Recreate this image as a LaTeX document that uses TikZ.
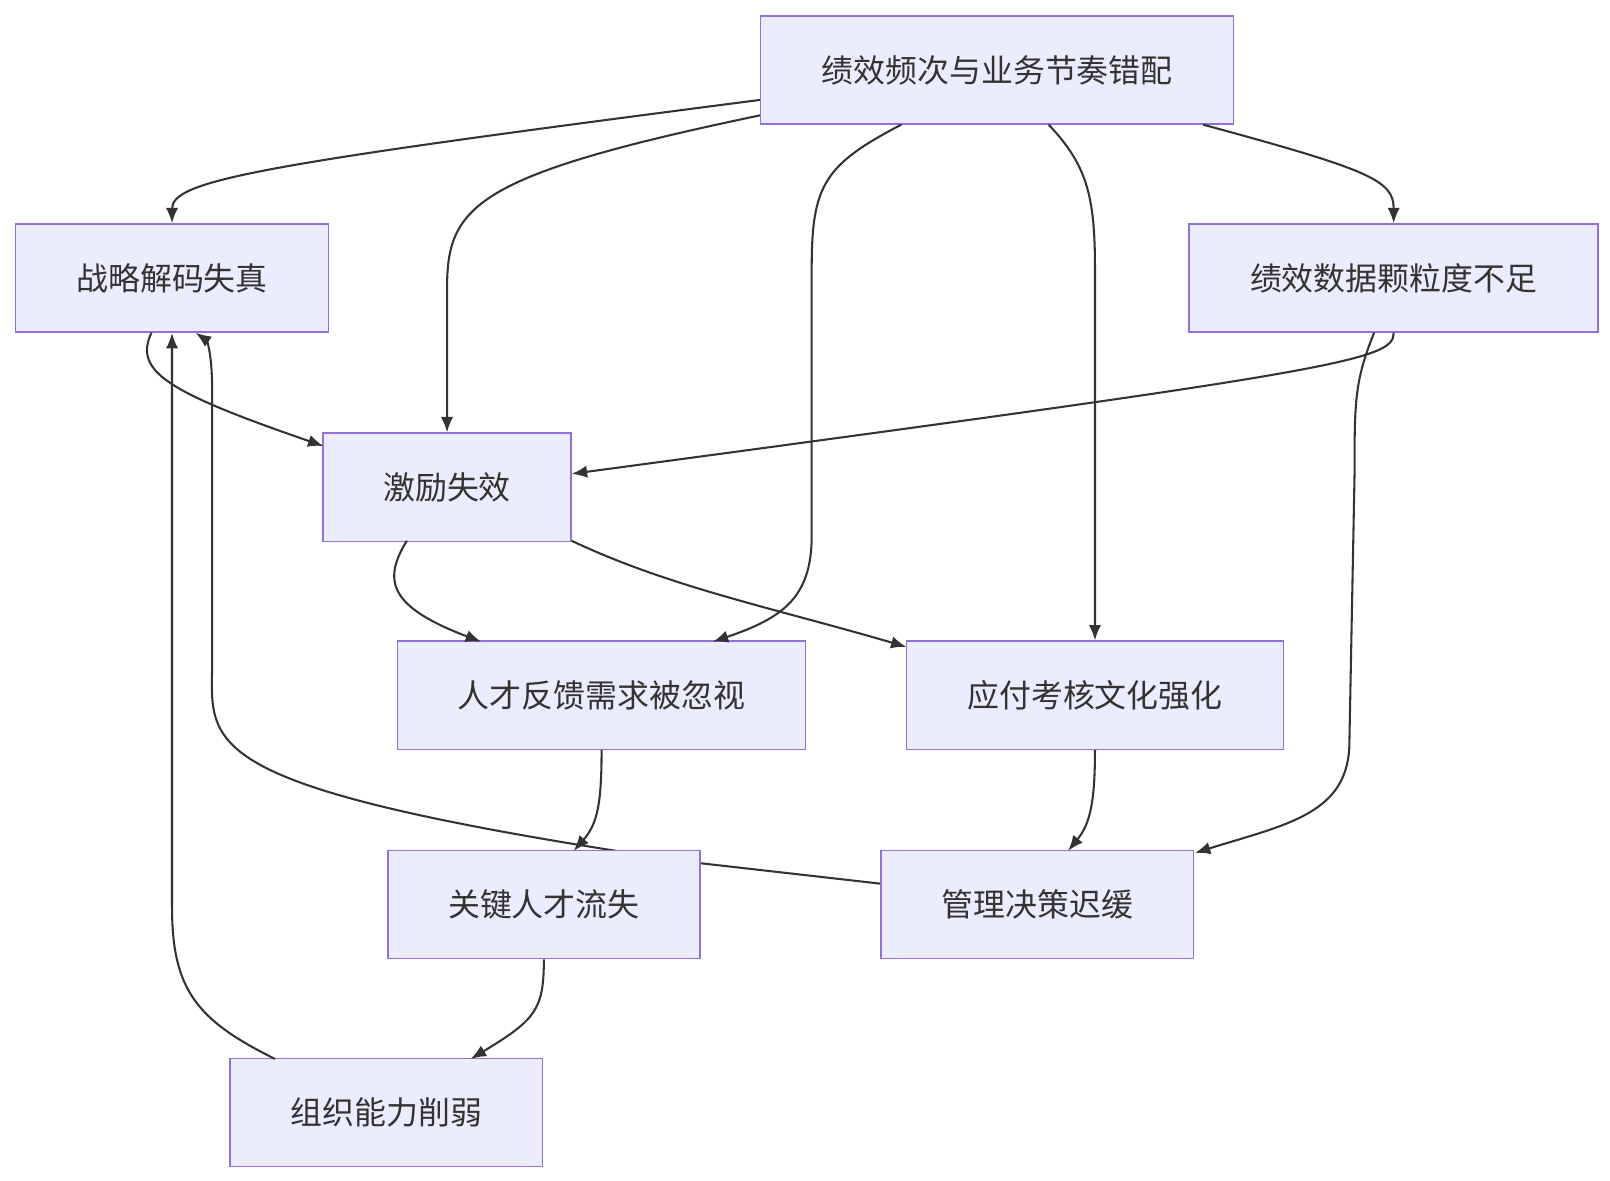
\documentclass[tikz,border=0pt]{standalone}
\usepackage{fontspec}
\newfontfamily\cjk{Noto Sans CJK SC}
\usetikzlibrary{arrows.meta}
\definecolor{boxfill}{HTML}{ECECFF}
\definecolor{boxline}{HTML}{9370DB}
\definecolor{edge}{HTML}{333333}
\tikzset{
  box/.style={draw=boxline,fill=boxfill,line width=1.5pt,minimum height=105pt,
    inner sep=0pt,font=\cjk\fontsize{31}{36}\selectfont,text=black!80},
  flow/.style={draw=edge,line width=2pt,-{Latex[length=15pt,width=12pt]}},
  back/.style={draw=edge,line width=2pt}
}
\begin{document}
\begin{tikzpicture}[x=1pt,y=-1pt]
\useasboundingbox (0,0) rectangle (1563,1146);
% connectors that pass behind boxes
\draw[back] (856,858) -- (680,838);
\draw[flow] (598,826) .. controls (180,760) and (206,720) .. (206,640) -- (206,380)
   .. controls (206,340) and (200,330) .. (190,323);
% boxes
\node[box,minimum width=459pt] (freq) at (968,68) {绩效频次与业务节奏错配};
\node[box,minimum width=304pt] (decode) at (167,270) {战略解码失真};
\node[box,minimum width=397pt] (grain) at (1353,270) {绩效数据颗粒度不足};
\node[box,minimum width=241pt] (incent) at (434,473) {激励失效};
\node[box,minimum width=396pt] (voice) at (584,675) {人才反馈需求被忽视};
\node[box,minimum width=366pt] (cope) at (1063,675) {应付考核文化强化};
\node[box,minimum width=303pt] (loss) at (528,878) {关键人才流失};
\node[box,minimum width=303pt] (slow) at (1007,878) {管理决策迟缓};
\node[box,minimum width=303pt] (weak) at (375,1080) {组织能力削弱};
% connectors
\draw[flow] (freq.west |- 0,97) .. controls (250,160) and (167,175) .. (decode.north);
\draw[flow] (freq.west |- 0,112) .. controls (460,170) and (434,200) .. (434,280) -- (incent.north);
\draw[flow] (875,121) .. controls (800,160) and (788,180) .. (788,260) -- (788,520)
   .. controls (788,580) and (760,600) .. (692,623);
\draw[flow] (1018,121) .. controls (1055,160) and (1063,190) .. (1063,260) -- (cope.north);
\draw[flow] (1168,121) .. controls (1330,165) and (1353,175) .. (grain.north);
\draw[flow] (147,323) .. controls (130,360) and (160,380) .. (314,433);
\draw[flow] (grain.south) .. controls (1353,350) and (1300,360) .. (555,460);
\draw[flow] (1334,323) .. controls (1315,370) and (1315,390) .. (1315,460) -- (1310,720)
   .. controls (1310,790) and (1250,800) .. (1160,828);
\draw[flow] (395,525) .. controls (370,565) and (380,590) .. (467,623);
\draw[flow] (555,525) .. controls (650,570) and (750,590) .. (880,628);
\draw[flow] (voice.south) .. controls (584,780) and (580,800) .. (557,826);
\draw[flow] (cope.south) .. controls (1063,780) and (1058,800) .. (1037,826);
\draw[flow] (loss.south) .. controls (528,980) and (520,990) .. (457,1028);
\draw[flow] (267,1028) .. controls (190,990) and (167,960) .. (167,880) -- (decode.south);
\end{tikzpicture}
\end{document}
